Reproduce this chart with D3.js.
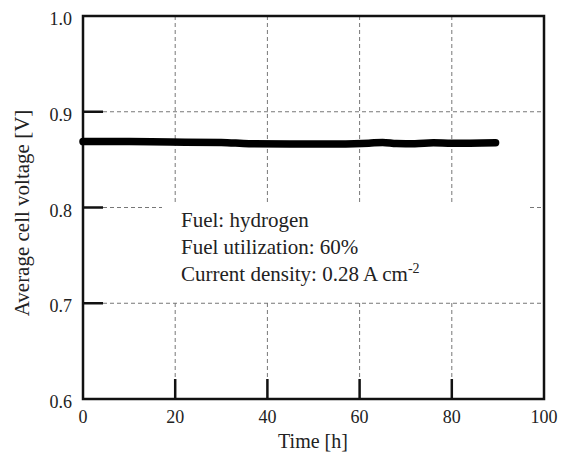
<html>
<head>
<style>
  body { margin: 0; background: #fff; }
  .grid { stroke: #777; stroke-width: 1; stroke-dasharray: 4,3; }
</style>
</head>
<body>
<svg id="chart" width="561" height="460"></svg>
<script src="https://d3js.org/d3.v7.min.js"></script>
<script>
// data
const time    = [0, 5, 10, 19, 30, 36, 45, 55, 62, 65, 68, 72, 76, 80, 89.5]
const voltage = [0.8688, 0.8690, 0.8689, 0.8683, 0.8680, 0.8666, 0.8662, 0.8664, 0.8672, 0.8680, 0.8668, 0.8665, 0.8675, 0.8670, 0.8676]
const xTicks = [0, 20, 40, 60, 80, 100]
const yTicks = [0.6, 0.7, 0.8, 0.9, 1.0]
const notes = ["Fuel: hydrogen", "Fuel utilization: 60%", "Current density: 0.28 A cm"]

const font = "Liberation Serif"
const svg = d3.select("#chart")
const pLeft = 83, pRight = 544, pTop = 16, pBottom = 399

let x = d3.scaleLinear().domain([0, 100]).range([pLeft, pRight])
let y = d3.scaleLinear().domain([0.6, 1.0]).range([pBottom, pTop])

// grid
let inner = xTicks.slice(1, -1)
svg.selectAll(".vg").data(inner).enter().append("line")
    .attr("class", "grid")
    .attr("x1", d => x(d)).attr("x2", d => x(d))
    .attr("y1", pTop).attr("y2", pBottom - 20)
let innerY = yTicks.slice(1, -1)
svg.selectAll(".hg").data(innerY).enter().append("line")
    .attr("class", "grid")
    .attr("x1", pLeft + 20).attr("x2", pRight)
    .attr("y1", d => y(d)).attr("y2", d => y(d))

// inward ticks
svg.selectAll(".xt").data(inner).enter().append("line")
    .attr("x1", d => x(d)).attr("x2", d => x(d))
    .attr("y1", pBottom).attr("y2", pBottom - 20)
    .attr("stroke", "#111").attr("stroke-width", 2.5)
svg.selectAll(".yt").data(innerY).enter().append("line")
    .attr("x1", pLeft).attr("x2", pLeft + 20)
    .attr("y1", d => y(d)).attr("y2", d => y(d))
    .attr("stroke", "#111").attr("stroke-width", 2.5)

// white box behind the notes
svg.append("rect")
    .attr("x", 162).attr("y", 205).attr("width", 366).attr("height", 95)
    .attr("fill", "#fff")

// frame
svg.append("rect")
    .attr("x", pLeft).attr("y", pTop)
    .attr("width", pRight - pLeft).attr("height", pBottom - pTop)
    .attr("fill", "none").attr("stroke", "#111").attr("stroke-width", 2.5)

// data line
let line = d3.line().x((d, i) => x(time[i])).y(d => y(d)).curve(d3.curveMonotoneX)
svg.append("path")
    .attr("d", line(voltage))
    .attr("fill", "none").attr("stroke", "#000")
    .attr("stroke-width", 7.5).attr("stroke-linecap", "round")

// tick labels
svg.selectAll(".xl").data(xTicks).enter().append("text")
    .attr("x", d => x(d)).attr("y", 423)
    .attr("text-anchor", "middle")
    .style("font-family", font).style("font-size", "18px").style("fill", "#222")
    .text(d => d)
svg.selectAll(".yl").data(yTicks).enter().append("text")
    .attr("x", 72).attr("y", d => y(d) + 9)
    .attr("text-anchor", "end")
    .style("font-family", font).style("font-size", "18px").style("fill", "#222")
    .text(d => d.toFixed(1))

// axis titles
svg.append("text").attr("x", 313).attr("y", 448)
    .attr("text-anchor", "middle")
    .style("font-family", font).style("font-size", "20px").style("fill", "#222")
    .text("Time [h]")
svg.append("text")
    .attr("transform", "translate(29,213) rotate(-90)")
    .attr("text-anchor", "middle")
    .style("font-family", font).style("font-size", "21px").style("fill", "#222")
    .text("Average cell voltage [V]")

// notes
let nt = svg.selectAll(".note").data(notes).enter().append("text")
    .attr("x", 181).attr("y", (d, i) => 227 + i * 27)
    .style("font-family", font).style("font-size", "21px").style("fill", "#222")
    .text(d => d)
nt.filter((d, i) => i == 2).append("tspan")
    .attr("dy", -8).style("font-size", "14px").text("-2")
</script>
</body>
</html>
